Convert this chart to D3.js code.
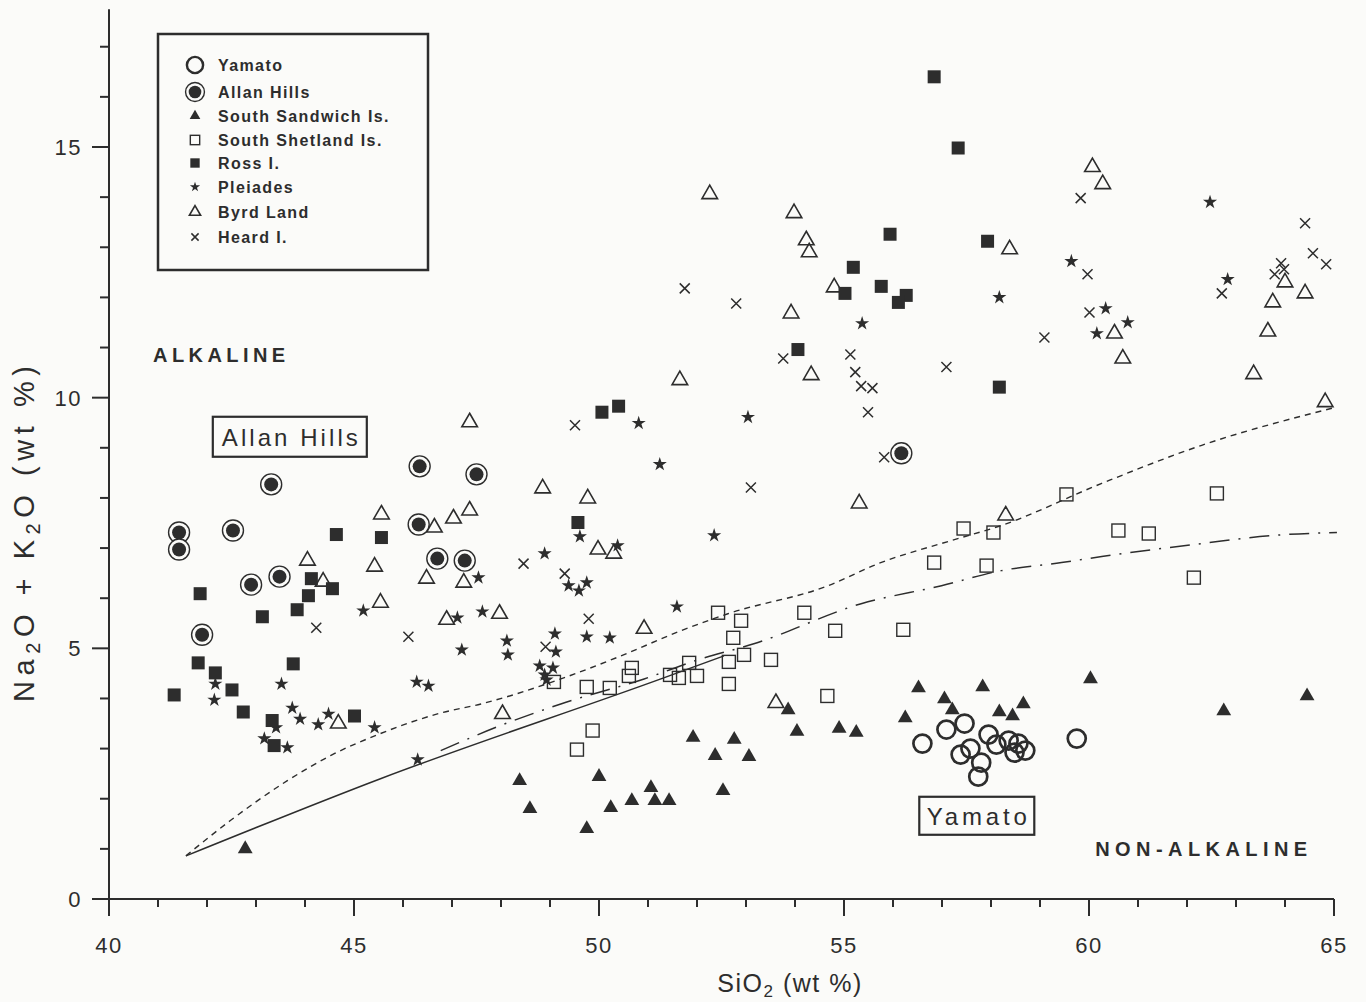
<!DOCTYPE html>
<html>
<head>
<meta charset="utf-8">
<script src="https://cdn.jsdelivr.net/npm/d3@7"></script>
<style>
  body { margin: 0; background: #fbfbf9; }
  svg { display: block; font-family: "Liberation Sans", Arial, sans-serif; }
</style>
</head>
<body>
<svg id="chart" width="1366" height="1002"></svg>
<script>
// SiO2 (wt %) , Na2O + K2O (wt %)
const yamato = [
  [56.60, 3.10], [57.09, 3.38], [57.46, 3.50], [57.38, 2.88], [57.58, 3.00],
  [57.80, 2.72], [57.74, 2.44], [57.95, 3.28], [58.11, 3.08], [58.36, 3.16],
  [58.56, 3.10], [58.48, 2.92], [58.70, 2.96], [59.75, 3.20]
];
const allanHills = [
  [41.43, 7.31], [41.43, 6.97], [42.53, 7.35], [43.31, 8.27], [43.48, 6.43],
  [42.90, 6.27], [41.90, 5.27], [46.34, 8.63], [47.50, 8.47], [46.32, 7.47],
  [46.70, 6.79], [47.26, 6.75], [56.17, 8.89]
];
const southSandwich = [
  [42.78, 1.00], [48.38, 2.36], [48.59, 1.80], [50.00, 2.44], [50.24, 1.82],
  [49.75, 1.40], [50.67, 1.96], [51.06, 2.22], [51.14, 1.96], [51.43, 1.96],
  [51.92, 3.22], [52.76, 3.18], [52.37, 2.86], [53.06, 2.84], [52.53, 2.16],
  [53.86, 3.77], [54.04, 3.34], [54.90, 3.40], [55.25, 3.32], [56.25, 3.61],
  [56.52, 4.21], [57.05, 3.99], [57.21, 3.77], [57.83, 4.23], [58.17, 3.73],
  [58.44, 3.65], [58.66, 3.89], [60.03, 4.39], [62.75, 3.75], [64.45, 4.05]
];
const southShetland = [
  [49.55, 2.98], [49.87, 3.36], [49.08, 4.33], [49.75, 4.23], [50.22, 4.21],
  [50.67, 4.61], [50.61, 4.45], [51.45, 4.47], [51.63, 4.41], [51.84, 4.71],
  [52.00, 4.45], [52.43, 5.71], [52.90, 5.55], [52.74, 5.21], [52.96, 4.87],
  [52.65, 4.73], [52.65, 4.29], [53.51, 4.77], [54.19, 5.71], [54.82, 5.35],
  [54.66, 4.05], [56.21, 5.37], [56.84, 6.71], [57.44, 7.39], [57.91, 6.65],
  [58.05, 7.31], [59.54, 8.07], [60.60, 7.35], [61.22, 7.29], [62.14, 6.41],
  [62.61, 8.09]
];
const rossI = [
  [41.33, 4.07], [41.86, 6.09], [41.82, 4.71], [42.17, 4.51], [42.51, 4.17],
  [42.74, 3.73], [43.13, 5.63], [43.33, 3.56], [43.37, 3.06], [43.76, 4.69],
  [43.84, 5.77], [44.07, 6.05], [44.13, 6.39], [44.56, 6.19], [44.64, 7.27],
  [45.56, 7.21], [45.01, 3.65], [50.06, 9.71], [50.40, 9.83], [49.57, 7.51],
  [55.94, 13.26], [57.93, 13.12], [55.19, 12.60], [55.76, 12.22], [55.02, 12.08],
  [56.27, 12.04], [56.11, 11.90], [54.06, 10.96], [58.17, 10.21], [56.84, 16.40],
  [57.33, 14.98]
];
const pleiades = [
  [42.17, 4.29], [42.15, 3.97], [43.52, 4.29], [43.74, 3.81], [43.90, 3.59],
  [43.41, 3.42], [43.17, 3.20], [43.64, 3.02], [44.27, 3.48], [44.48, 3.69],
  [45.19, 5.75], [45.42, 3.42], [50.81, 9.49], [51.24, 8.67], [48.89, 6.89],
  [49.61, 7.23], [50.38, 7.05], [47.54, 6.41], [49.38, 6.25], [49.59, 6.15],
  [49.75, 6.31], [47.11, 5.61], [47.62, 5.73], [51.59, 5.83], [49.10, 5.29],
  [49.75, 5.23], [50.22, 5.21], [48.12, 5.15], [48.14, 4.87], [47.20, 4.97],
  [46.28, 4.33], [46.52, 4.25], [48.79, 4.65], [49.06, 4.61], [49.12, 4.93],
  [48.89, 4.47], [48.93, 4.37], [46.30, 2.78], [52.35, 7.25], [53.04, 9.61],
  [55.37, 11.48], [58.17, 12.00], [59.64, 12.72], [60.34, 11.78], [60.79, 11.50],
  [60.16, 11.28], [62.47, 13.90], [62.83, 12.36]
];
const byrdLand = [
  [45.56, 7.67], [45.42, 6.63], [45.54, 5.91], [44.05, 6.75], [44.37, 6.33],
  [44.68, 3.50], [47.36, 9.51], [48.85, 8.19], [49.77, 7.99], [47.36, 7.75],
  [47.03, 7.59], [46.64, 7.41], [46.48, 6.39], [47.24, 6.31], [46.89, 5.57],
  [47.97, 5.69], [49.98, 6.97], [50.30, 6.89], [50.92, 5.39], [48.03, 3.69],
  [53.61, 3.91], [52.26, 14.06], [53.98, 13.68], [54.23, 13.14], [54.29, 12.90],
  [54.80, 12.20], [53.92, 11.68], [54.33, 10.45], [51.65, 10.35], [58.38, 12.96],
  [60.07, 14.60], [60.28, 14.26], [60.52, 11.28], [60.69, 10.78], [64.00, 12.30],
  [63.75, 11.90], [64.41, 12.08], [63.65, 11.32], [63.36, 10.47], [64.82, 9.91],
  [55.31, 7.89], [58.30, 7.65]
];
const heardI = [
  [44.23, 5.41], [49.51, 9.45], [48.46, 6.69], [49.30, 6.49], [49.79, 5.59],
  [46.11, 5.23], [48.91, 5.03], [51.75, 12.18], [52.80, 11.88], [53.76, 10.78],
  [55.13, 10.86], [55.23, 10.51], [55.35, 10.23], [55.58, 10.19], [55.49, 9.71],
  [55.82, 8.81], [57.09, 10.61], [59.09, 11.20], [53.10, 8.21], [59.83, 13.98],
  [59.97, 12.46], [60.01, 11.70], [62.71, 12.08], [64.41, 13.48], [64.57, 12.88],
  [64.84, 12.66], [63.92, 12.68], [63.98, 12.56], [63.79, 12.46]
];

// alkaline / non-alkaline dividing lines
const dividerDashed = [
  [41.57, 0.86], [42.47, 1.56], [43.64, 2.36], [44.52, 2.86], [45.54, 3.30],
  [46.77, 3.71], [47.59, 3.89], [49.28, 4.41], [50.45, 4.85], [51.67, 5.35],
  [52.63, 5.69], [54.68, 6.25], [55.70, 6.69], [57.19, 7.15], [58.21, 7.45],
  [60.26, 8.29], [62.30, 9.05], [64.96, 9.79]
];
const dividerSolid = [[41.57, 0.86], [45.54, 2.40], [51.32, 4.41], [52.55, 4.85]];
const dividerDashDot = [
  [46.77, 2.96], [47.99, 3.46], [49.22, 3.89], [50.92, 4.39], [52.08, 4.79],
  [53.16, 5.09], [55.35, 5.89], [56.99, 6.25], [58.21, 6.55], [59.44, 6.71],
  [60.26, 6.83], [62.30, 7.09], [63.73, 7.25], [65.06, 7.31]
];

const xMajorTicks = [40, 45, 50, 55, 60, 65];
const yMajorTicks = [0, 5, 10, 15];
const legendLabels = ['Yamato', 'Allan Hills', 'South Sandwich Is.', 'South Shetland Is.',
  'Ross I.', 'Pleiades', 'Byrd Land', 'Heard I.'];
const legendKinds = ['yamato', 'allan', 'sandwich', 'shetland', 'ross', 'pleiades', 'byrd', 'heard'];

const ink = '#2d2d2d';
const paper = '#fbfbf9';

const svg = d3.select('#chart');
const x = d3.scaleLinear().domain([40, 65]).range([109, 1334]);
const y = d3.scaleLinear().domain([0, 15]).range([899, 147]);

// axes
const xAxis = svg.append('g').attr('transform', `translate(0,${y(0)})`);
xAxis.append('line').attr('x1', x(40)).attr('x2', x(65)).attr('stroke', ink).attr('stroke-width', 2);
xAxis.selectAll('.tick')
  .data(d3.range(40, 66))
  .join('line')
  .attr('x1', d => x(d)).attr('x2', d => x(d))
  .attr('y1', 0).attr('y2', d => (d % 5 === 0 ? 17 : 8))
  .attr('stroke', ink).attr('stroke-width', 2);
xAxis.selectAll('text')
  .data(xMajorTicks)
  .join('text')
  .attr('x', d => x(d)).attr('y', 54)
  .attr('text-anchor', 'middle')
  .attr('font-size', 22).attr('letter-spacing', 1.5)
  .attr('fill', ink)
  .text(d => d);

const yAxis = svg.append('g').attr('transform', `translate(${x(40)},0)`);
yAxis.append('line').attr('y1', y(0)).attr('y2', y(17.75)).attr('stroke', ink).attr('stroke-width', 2);
yAxis.selectAll('.tick')
  .data(d3.range(0, 18))
  .join('line')
  .attr('y1', d => y(d)).attr('y2', d => y(d))
  .attr('x1', d => (d % 5 === 0 ? -17 : -9)).attr('x2', 0)
  .attr('stroke', ink).attr('stroke-width', 2);
yAxis.selectAll('text')
  .data(yMajorTicks)
  .join('text')
  .attr('x', -27).attr('y', d => y(d) + 8)
  .attr('text-anchor', 'end')
  .attr('font-size', 22).attr('letter-spacing', 1.5)
  .attr('fill', ink)
  .text(d => d);

// axis titles
const xTitle = svg.append('text')
  .attr('x', 790).attr('y', 992)
  .attr('text-anchor', 'middle')
  .attr('font-size', 25).attr('letter-spacing', 1.5)
  .attr('fill', ink);
xTitle.append('tspan').text('SiO');
xTitle.append('tspan').attr('font-size', 17).attr('dy', 5).text('2');
xTitle.append('tspan').attr('dy', -5).text(' (wt %)');

const yTitle = svg.append('text')
  .attr('transform', 'translate(34,534) rotate(-90)')
  .attr('text-anchor', 'middle')
  .attr('font-size', 29)
  .attr('textLength', 336).attr('lengthAdjust', 'spacing')
  .attr('fill', ink);
yTitle.append('tspan').text('Na');
yTitle.append('tspan').attr('font-size', 20).attr('dy', 6).text('2');
yTitle.append('tspan').attr('dy', -6).text('O + K');
yTitle.append('tspan').attr('font-size', 20).attr('dy', 6).text('2');
yTitle.append('tspan').attr('dy', -6).text('O (wt %)');

// dividing lines
const line = d3.line().x(d => x(d[0])).y(d => y(d[1])).curve(d3.curveMonotoneX);
svg.append('path').datum(dividerDashed).attr('d', line)
  .attr('fill', 'none').attr('stroke', ink).attr('stroke-width', 1.4).attr('stroke-dasharray', '6,5');
svg.append('path').datum(dividerSolid).attr('d', line)
  .attr('fill', 'none').attr('stroke', ink).attr('stroke-width', 1.5);
svg.append('path').datum(dividerDashDot).attr('d', line)
  .attr('fill', 'none').attr('stroke', ink).attr('stroke-width', 1.5).attr('stroke-dasharray', '20,9,2,9');

// markers
function drawMarker(g, kind, k) {
  if (kind === 'yamato') {
    g.append('circle').attr('r', 9 * k).attr('fill', 'none').attr('stroke', ink).attr('stroke-width', 2.7 * k);
  } else if (kind === 'allan') {
    g.append('circle').attr('r', 10.5 * k).attr('fill', paper).attr('stroke', ink).attr('stroke-width', 1.4);
    g.append('circle').attr('r', 7 * k).attr('fill', ink);
  } else if (kind === 'sandwich') {
    g.append('path').attr('d', d3.symbol(d3.symbolTriangle, 95 * k * k)).attr('fill', ink);
  } else if (kind === 'shetland') {
    g.append('rect').attr('x', -6.5 * k).attr('y', -6.5 * k).attr('width', 13 * k).attr('height', 13 * k)
      .attr('fill', 'none').attr('stroke', ink).attr('stroke-width', 1.4);
  } else if (kind === 'ross') {
    g.append('rect').attr('x', -6.5 * k).attr('y', -6.5 * k).attr('width', 13 * k).attr('height', 13 * k)
      .attr('fill', ink);
  } else if (kind === 'pleiades') {
    g.append('path').attr('d', d3.symbol(d3.symbolStar, 62 * k * k)).attr('fill', ink);
  } else if (kind === 'byrd') {
    g.append('path').attr('d', d3.symbol(d3.symbolTriangle, 105 * k * k))
      .attr('fill', 'none').attr('stroke', ink).attr('stroke-width', 1.6);
  } else if (kind === 'heard') {
    const s = 5 * k;
    g.append('path').attr('d', `M${-s},${-s}L${s},${s}M${-s},${s}L${s},${-s}`)
      .attr('fill', 'none').attr('stroke', ink).attr('stroke-width', 1.5);
  }
}

const seriesList = [
  ['byrd', byrdLand], ['heard', heardI], ['pleiades', pleiades], ['shetland', southShetland],
  ['ross', rossI], ['sandwich', southSandwich], ['allan', allanHills], ['yamato', yamato]
];
seriesList.forEach(([kind, data]) => {
  svg.append('g')
    .selectAll('g')
    .data(data)
    .join('g')
    .attr('transform', d => `translate(${x(d[0])},${y(d[1])})`)
    .each(function () { drawMarker(d3.select(this), kind, 1); });
});

// region labels
svg.append('text')
  .attr('x', x(40.9)).attr('y', y(10.87) + 8)
  .attr('font-size', 20).attr('font-weight', 'bold').attr('fill', ink)
  .attr('textLength', 132).attr('lengthAdjust', 'spacing')
  .text('ALKALINE');
svg.append('text')
  .attr('x', x(62.29)).attr('y', y(1.02) + 8)
  .attr('text-anchor', 'middle')
  .attr('font-size', 20).attr('font-weight', 'bold').attr('fill', ink)
  .attr('textLength', 212).attr('lengthAdjust', 'spacing')
  .text('NON-ALKALINE');

// boxed group labels
function boxLabel(cx, cy, w, h, label, textW) {
  const g = svg.append('g').attr('transform', `translate(${x(cx)},${y(cy)})`);
  g.append('rect').attr('x', -w / 2).attr('y', -h / 2).attr('width', w).attr('height', h)
    .attr('fill', paper).attr('stroke', ink).attr('stroke-width', 2.2);
  g.append('text').attr('y', 9).attr('text-anchor', 'middle')
    .attr('font-size', 24).attr('fill', ink)
    .attr('textLength', textW).attr('lengthAdjust', 'spacing')
    .text(label);
}
boxLabel(43.69, 9.22, 154, 40, 'Allan Hills', 136);
boxLabel(57.71, 1.66, 115, 38, 'Yamato', 100);

// legend
const legendRowY = [65, 92, 116, 140, 163, 187, 212, 237];
const legend = svg.append('g');
legend.append('rect').attr('x', 158).attr('y', 34).attr('width', 270).attr('height', 236)
  .attr('fill', paper).attr('stroke', ink).attr('stroke-width', 2.5);
const rows = legend.selectAll('.row')
  .data(legendLabels)
  .join('g')
  .attr('transform', (d, i) => `translate(195,${legendRowY[i]})`);
rows.each(function (d, i) { drawMarker(d3.select(this), legendKinds[i], i < 2 ? 0.9 : 0.72); });
rows.append('text')
  .attr('x', 23).attr('y', 6)
  .attr('font-size', 16).attr('font-weight', 'bold').attr('letter-spacing', 1.4)
  .attr('fill', ink)
  .text(d => d);
</script>
</body>
</html>
